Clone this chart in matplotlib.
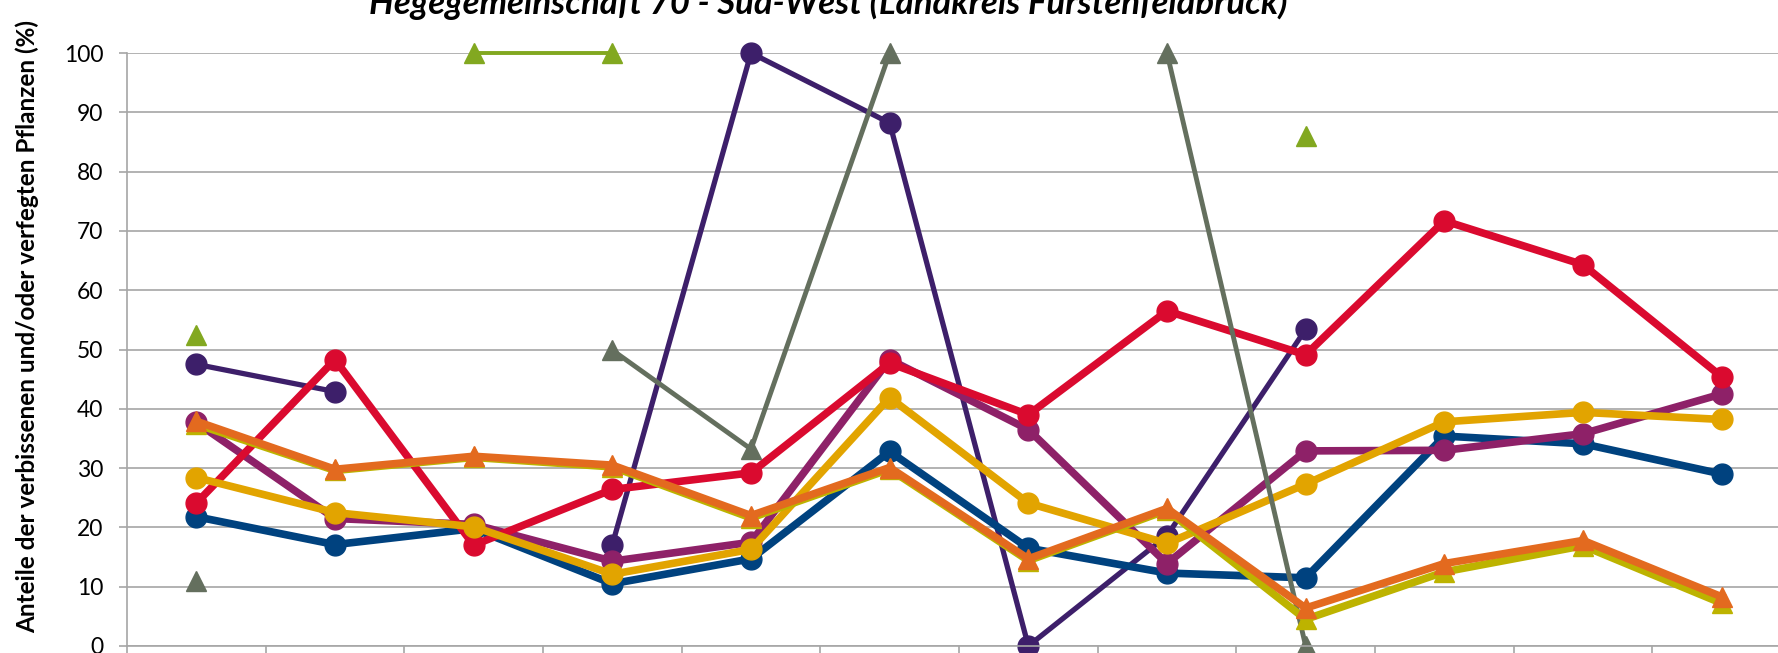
import numpy as np
import matplotlib
matplotlib.use('Agg')
import matplotlib.pyplot as plt

nan = np.nan

# 12 categories (x labels are cut off in the reference)
n_cat = 12
cats = np.arange(n_cat)

# series values (%), nan = no value
purple = [47.5, 42.9, nan, 17.1, 100, 88.2, 0.0, 18.6, 53.4, nan, nan, nan]
blue = [21.8, 17.1, 19.8, 10.5, 14.7, 32.8, 16.5, 12.3, 11.5, 35.4, 34.1, 29.0]
magenta = [37.7, 21.5, 20.5, 14.3, 17.5, 48.3, 36.5, 13.9, 32.9, 33.0, 35.8, 42.5]
red = [24.1, 48.3, 17.0, 26.4, 29.2, 47.7, 39.0, 56.5, 49.1, 71.7, 64.3, 45.4]
gold = [28.4, 22.5, 20.1, 12.1, 16.3, 41.9, 24.1, 17.3, 27.3, 37.8, 39.4, 38.2]
grey = [10.9, nan, nan, 49.9, 33.2, 100, nan, 100, 0.0, nan, nan, nan]
green = [52.5, nan, 100, 100, nan, nan, nan, nan, 86.0, nan, nan, nan]
olive = [37.4, 29.6, 31.8, 30.2, 21.6, 29.8, 14.4, 22.9, 4.5, 12.5, 16.9, 7.2]
orange = [37.9, 29.8, 32.0, 30.5, 22.0, 30.1, 14.7, 23.2, 6.4, 13.9, 17.8, 8.3]

title = 'Hegegemeinschaft 70 - Süd-West (Landkreis Fürstenfeldbruck)'
ylabel = 'Anteile der verbissenen und/oder verfegten Pflanzen (%)'

plt.rcParams['font.family'] = ['Lato', 'DejaVu Sans']

fig = plt.figure(figsize=(17.78, 6.53), dpi=100)
# plot area runs a bit past the right edge, like the cropped reference
ax = fig.add_axes([127 / 1778, 7 / 653, 1664 / 1778, 593 / 653])

# (values, colour, marker, linewidth) bottom to top
series = [
    (purple, '#3D1F6A', 'o', 3.8),
    (blue, '#00427F', 'o', 5.5),
    (magenta, '#8E2168', 'o', 5.5),
    (red, '#DA0A2F', 'o', 5.5),
    (gold, '#E2A400', 'o', 5.5),
    (grey, '#646F5E', '^', 3.5),
    (green, '#82A820', '^', 2.8),
    (olive, '#BDB300', '^', 5.5),
    (orange, '#E36A1F', '^', 5.5),
]
for vals, col, mk, lw in series:
    ax.plot(cats, vals, color=col, lw=lw, marker=mk, ms=15,
            mec=col, mfc=col, clip_on=False, solid_joinstyle='round')

ax.set_xlim(-0.5, n_cat - 0.5)
ax.set_ylim(0, 100)
ax.set_yticks(range(0, 101, 10))
ax.set_xticks(np.arange(-0.5, n_cat, 1))
ax.set_xticklabels([])
ax.yaxis.grid(True, color='#A6A6A6', lw=1.2)
ax.set_axisbelow(True)
for s in ['top', 'right']:
    ax.spines[s].set_visible(False)
for s in ['left', 'bottom']:
    ax.spines[s].set_color('#A6A6A6')
    ax.spines[s].set_linewidth(1.2)
ax.tick_params(axis='y', direction='out', length=6, width=1.2, color='#A6A6A6',
               labelsize=16.5, pad=11)
ax.tick_params(axis='x', direction='out', length=7, width=1.2, color='#A6A6A6')

fig.text(828 / 1778, 1 - 14 / 653, title, ha='center', va='baseline',
         fontsize=25, fontweight='bold', fontstyle='italic')
fig.text(27 / 1778, 0.5, ylabel, rotation=90, ha='center', va='center',
         fontsize=17.5, fontweight='bold')

fig.savefig('out.png', dpi=100)
